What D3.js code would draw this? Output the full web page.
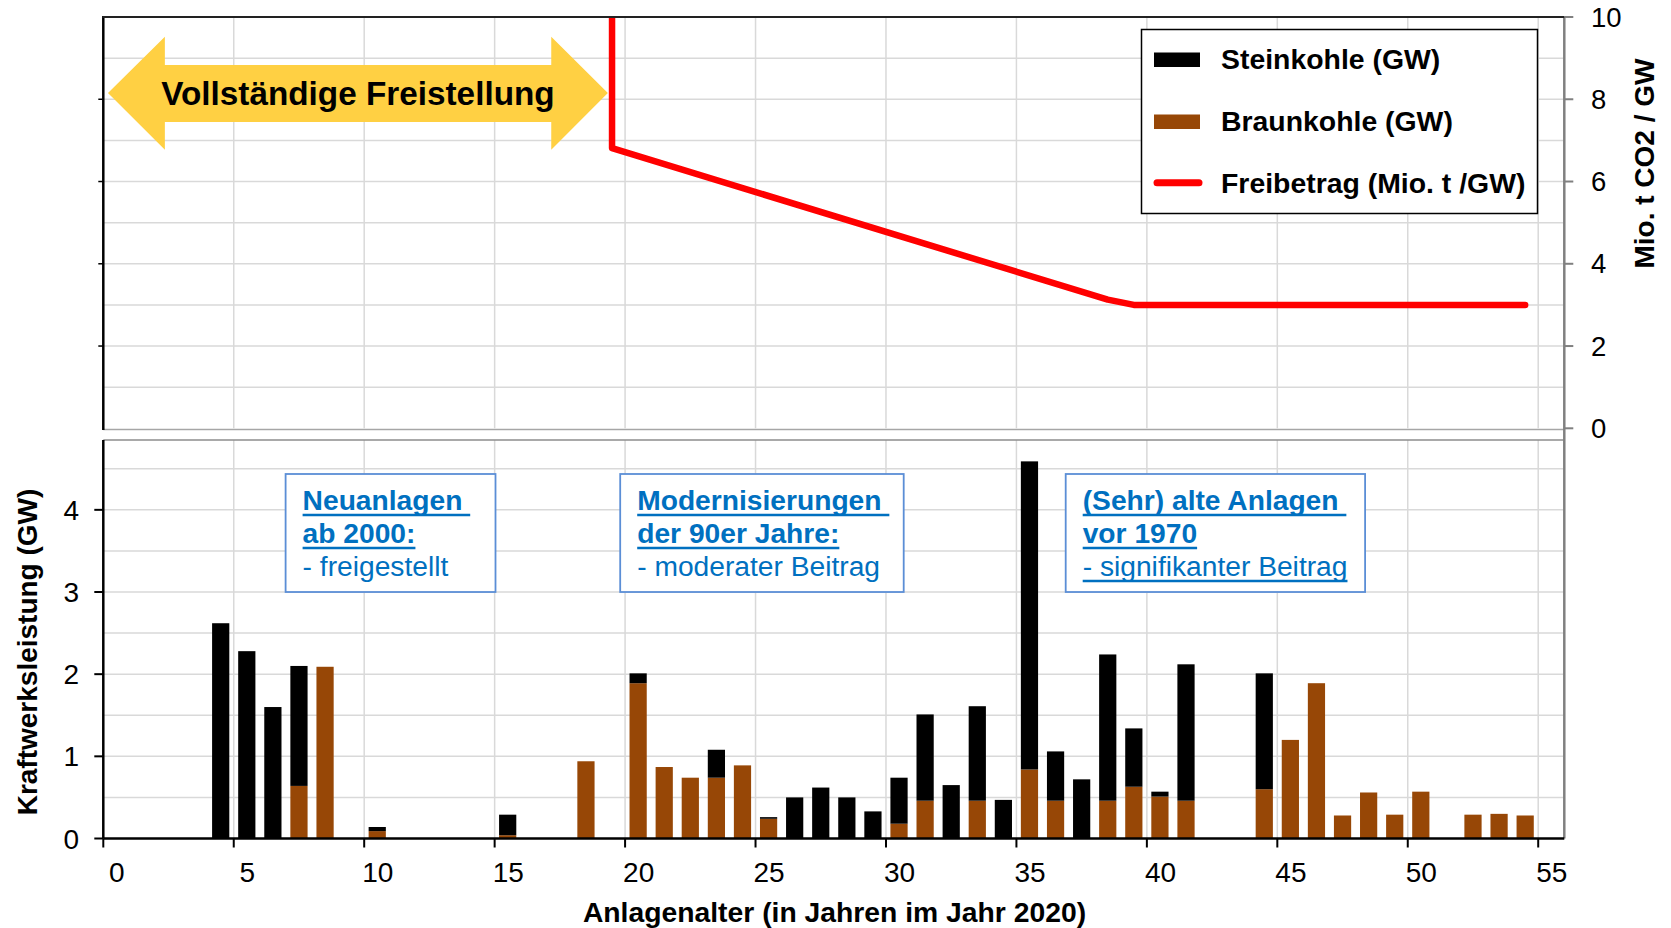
<!DOCTYPE html>
<html>
<head>
<meta charset="utf-8">
<script src="https://cdn.jsdelivr.net/npm/d3@7/dist/d3.min.js"></script>
<style>
  html, body { margin: 0; padding: 0; background: #ffffff; }
  svg { display: block; font-family: "Liberation Sans", Arial, Helvetica, sans-serif; }
</style>
</head>
<body>
<svg id="chart" width="1671" height="928"></svg>
<script>
// ---------- DATA ----------
const ages = [4,5,6,7,8,10,15,18,20,21,22,23,24,25,26,27,28,29,30,31,32,33,34,35,36,37,38,39,40,41,44,45,46,47,48,49,50,52,53,54];
const braunkohle = [0,0,0,0.64,2.09,0.09,0.04,0.94,1.89,0.87,0.74,0.74,0.89,0.24,0,0,0,0,0.18,0.46,0,0.46,0,0.84,0.46,0,0.46,0.63,0.51,0.46,0.60,1.20,1.89,0.28,0.56,0.29,0.57,0.29,0.30,0.28];
const steinkohle = [2.62,2.28,1.60,1.46,0,0.05,0.25,0,0.12,0,0,0.34,0,0.02,0.50,0.62,0.50,0.33,0.56,1.05,0.65,1.15,0.47,3.75,0.60,0.72,1.78,0.71,0.06,1.66,1.41,0,0,0,0,0,0,0,0,0];
const freibetragX = [19.5, 19.5, 38.5, 39.5, 54.5];
const freibetragY = [10, 6.81, 3.13, 3.0, 3.0];
const xTicks = [0,5,10,15,20,25,30,35,40,45,50,55];
const leftTicks = [0,1,2,3,4];
const leftGrid = [0.5,1,1.5,2,2.5,3,3.5,4,4.5];
const rightTicks = [0,2,4,6,8,10];
const rightGrid = [1,2,3,4,5,6,7,8,9];
const seriesNames = ["Steinkohle (GW)", "Braunkohle (GW)", "Freibetrag (Mio. t /GW)"];
const seriesColors = {stein: "#000000", braun: "#974706", line: "#FF0000"};

// ---------- SCALES ----------
const svg = d3.select("#chart");
const x = d3.scaleLinear().domain([0, 56]).range([103.3, 1564.3]);
const yTop = d3.scaleLinear().domain([0, 10]).range([428.3, 17]);
const yBot = d3.scaleLinear().domain([0, 4.85]).range([838.5, 440]);
const gridColor = "#D9D9D9";
const FONT_BOLD = 700;

// ---------- GRIDLINES ----------
const g = svg.append("g");
g.selectAll(".hgU").data(rightGrid).enter().append("line")
  .attr("x1", x(0)).attr("x2", x(56))
  .attr("y1", d => yTop(d)).attr("y2", d => yTop(d))
  .attr("stroke", gridColor).attr("stroke-width", 1.5);
g.selectAll(".vgU").data(xTicks.filter(d => d > 0)).enter().append("line")
  .attr("x1", d => x(d)).attr("x2", d => x(d))
  .attr("y1", yTop(10)).attr("y2", yTop(0))
  .attr("stroke", gridColor).attr("stroke-width", 1.5);
g.selectAll(".hgL").data(leftGrid).enter().append("line")
  .attr("x1", x(0)).attr("x2", x(56))
  .attr("y1", d => yBot(d)).attr("y2", d => yBot(d))
  .attr("stroke", gridColor).attr("stroke-width", 1.5);
g.selectAll(".vgL").data(xTicks.filter(d => d > 0)).enter().append("line")
  .attr("x1", d => x(d)).attr("x2", d => x(d))
  .attr("y1", yBot(4.85)).attr("y2", yBot(0))
  .attr("stroke", gridColor).attr("stroke-width", 1.5);

// ---------- BARS ----------
const table = ages.map((a, i) => ({age: a, braun: braunkohle[i], stein: steinkohle[i]}));
const stacked = d3.stack().keys(["braun", "stein"])(table);
const barW = x(0.66) - x(0);
svg.append("g").selectAll("g").data(stacked).enter().append("g")
  .attr("fill", d => seriesColors[d.key])
  .selectAll("rect").data(d => d.filter(s => s[1] - s[0] > 0)).enter().append("rect")
  .attr("x", d => x(d.data.age + 0.5) - barW / 2)
  .attr("width", barW)
  .attr("y", d => yBot(d[1]))
  .attr("height", d => yBot(d[0]) - yBot(d[1]));

// ---------- FRAMES & AXES ----------
svg.append("line").attr("x1", x(0)).attr("x2", x(56)).attr("y1", 429.5).attr("y2", 429.5)
  .attr("stroke", "#A6A6A6").attr("stroke-width", 1.5);
svg.append("line").attr("x1", x(0)).attr("x2", x(56)).attr("y1", yBot(4.85)).attr("y2", yBot(4.85))
  .attr("stroke", "#8C8C8C").attr("stroke-width", 1.5);
svg.append("line").attr("x1", x(56)).attr("x2", x(56)).attr("y1", yTop(10)).attr("y2", yBot(0))
  .attr("stroke", "#808080").attr("stroke-width", 2.5);
svg.selectAll(".rt").data(rightTicks).enter().append("line")
  .attr("x1", x(56)).attr("x2", x(56) + 9)
  .attr("y1", d => yTop(d)).attr("y2", d => yTop(d))
  .attr("stroke", "#808080").attr("stroke-width", 2);
svg.selectAll(".rl").data(rightTicks).enter().append("text")
  .attr("x", 1591).attr("y", d => yTop(d) + 9.5)
  .attr("font-size", 27.5).attr("fill", "#000").text(d => d);

svg.append("line").attr("x1", x(0)).attr("x2", x(0)).attr("y1", yTop(10) - 1).attr("y2", 430)
  .attr("stroke", "#000").attr("stroke-width", 2.5);
svg.selectAll(".ult").data([2,4,6,8]).enter().append("line")
  .attr("x1", x(0) - 5).attr("x2", x(0))
  .attr("y1", d => yTop(d)).attr("y2", d => yTop(d))
  .attr("stroke", "#000").attr("stroke-width", 1.5);

svg.append("line").attr("x1", x(0)).attr("x2", x(0)).attr("y1", yBot(4.85)).attr("y2", yBot(0))
  .attr("stroke", "#000").attr("stroke-width", 2.5);
svg.selectAll(".lt").data(leftTicks).enter().append("line")
  .attr("x1", x(0) - 9).attr("x2", x(0))
  .attr("y1", d => yBot(d)).attr("y2", d => yBot(d))
  .attr("stroke", "#000").attr("stroke-width", 2);
svg.selectAll(".ll").data(leftTicks).enter().append("text")
  .attr("x", 79).attr("y", d => yBot(d) + 10)
  .attr("text-anchor", "end").attr("font-size", 28).attr("fill", "#000").text(d => d);

svg.append("line").attr("x1", x(0)).attr("x2", x(56)).attr("y1", yBot(0)).attr("y2", yBot(0))
  .attr("stroke", "#000").attr("stroke-width", 2.5);
svg.selectAll(".xt").data(xTicks).enter().append("line")
  .attr("x1", d => x(d)).attr("x2", d => x(d))
  .attr("y1", yBot(0)).attr("y2", yBot(0) + 9)
  .attr("stroke", "#000").attr("stroke-width", 2);
svg.selectAll(".xl").data(xTicks).enter().append("text")
  .attr("x", d => x(d) + 13.6).attr("y", 882)
  .attr("text-anchor", "middle").attr("font-size", 28).attr("fill", "#000").text(d => d);

// ---------- RED LINE ----------
svg.append("clipPath").attr("id", "clipTop").append("rect")
  .attr("x", x(0)).attr("y", yTop(10)).attr("width", x(56) - x(0) + 20).attr("height", yTop(0) - yTop(10));
const lineGen = d3.line().x(d => x(d[0])).y(d => yTop(d[1]));
svg.append("path")
  .datum(freibetragX.map((v, i) => [v, freibetragY[i]]))
  .attr("d", lineGen)
  .attr("clip-path", "url(#clipTop)")
  .attr("fill", "none").attr("stroke", seriesColors.line)
  .attr("stroke-width", 6.5).attr("stroke-linejoin", "round").attr("stroke-linecap", "round");

svg.append("line").attr("x1", x(0) - 1).attr("x2", x(56)).attr("y1", yTop(10)).attr("y2", yTop(10))
  .attr("stroke", "#222").attr("stroke-width", 2);

// ---------- DOUBLE ARROW ----------
const arrowPts = [[0.18, 8.15],[2.36, 9.52],[2.36, 8.83],[17.17, 8.83],[17.17, 9.52],[19.34, 8.15],
                  [17.17, 6.77],[17.17, 7.45],[2.36, 7.45],[2.36, 6.77]];
svg.append("polygon")
  .attr("points", arrowPts.map(p => x(p[0]) + "," + yTop(p[1])).join(" "))
  .attr("fill", "#FFD043");
svg.append("text").attr("x", x(9.76)).attr("y", yTop(8.15) + 12)
  .attr("text-anchor", "middle").attr("font-size", 33.3).attr("font-weight", FONT_BOLD)
  .attr("fill", "#000").text("Vollständige Freistellung");

// ---------- LEGEND ----------
const lg = svg.append("g");
lg.append("rect").attr("x", 1141.5).attr("y", 29.5).attr("width", 396).attr("height", 184)
  .attr("fill", "#fff").attr("stroke", "#000").attr("stroke-width", 1.5);
lg.append("rect").attr("x", 1154).attr("y", 52.5).attr("width", 46).attr("height", 14.5).attr("fill", seriesColors.stein);
lg.append("rect").attr("x", 1154).attr("y", 114.5).attr("width", 46).attr("height", 14.5).attr("fill", seriesColors.braun);
lg.append("line").attr("x1", 1157).attr("x2", 1199).attr("y1", 182.7).attr("y2", 182.7)
  .attr("stroke", seriesColors.line).attr("stroke-width", 7).attr("stroke-linecap", "round");
[69, 131, 192.5].forEach((yy, i) => {
  lg.append("text").attr("x", 1221).attr("y", yy).attr("font-size", 28.4).attr("font-weight", FONT_BOLD)
    .attr("fill", "#000").text(seriesNames[i]);
});

// ---------- AXIS TITLES ----------
svg.append("text").attr("transform", "translate(1654,163.5) rotate(-90)")
  .attr("text-anchor", "middle").attr("font-size", 28).attr("font-weight", FONT_BOLD)
  .text("Mio. t CO2 / GW");
svg.append("text").attr("transform", "translate(37,652) rotate(-90)")
  .attr("text-anchor", "middle").attr("font-size", 28).attr("font-weight", FONT_BOLD)
  .text("Kraftwerksleistung (GW)");
svg.append("text").attr("x", 834.5).attr("y", 922)
  .attr("text-anchor", "middle").attr("font-size", 28.3).attr("font-weight", FONT_BOLD)
  .text("Anlagenalter (in Jahren im Jahr 2020)");

// ---------- ANNOTATION BOXES ----------
const boxes = [
  {x0: 285.6, x1: 495.5, lines: [["Neuanlagen ", true, true], ["ab 2000:", true, true], ["- freigestellt", false, false]]},
  {x0: 620.2, x1: 903.7, lines: [["Modernisierungen ", true, true], ["der 90er Jahre:", true, true], ["- moderater Beitrag", false, false]]},
  {x0: 1065.7, x1: 1365.1, lines: [["(Sehr) alte Anlagen ", true, true], ["vor 1970", true, true], ["- signifikanter Beitrag", false, true]]}
];
const blue = "#0070C0";
boxes.forEach(b => {
  svg.append("rect").attr("x", b.x0).attr("y", 474).attr("width", b.x1 - b.x0).attr("height", 118)
    .attr("fill", "#fff").attr("stroke", "#5B8ED6").attr("stroke-width", 1.8);
  b.lines.forEach((ln, i) => {
    const t = svg.append("text").attr("x", b.x0 + 17).attr("y", 510 + i * 33)
      .attr("font-size", 28.2).attr("font-weight", ln[1] ? 700 : 400)
      .attr("fill", blue).style("white-space", "pre").text(ln[0]);
    if (ln[2]) {
      const w = t.node().getComputedTextLength();
      svg.append("line").attr("x1", b.x0 + 17).attr("x2", b.x0 + 17 + w)
        .attr("y1", 510 + i * 33 + 5).attr("y2", 510 + i * 33 + 5)
        .attr("stroke", blue).attr("stroke-width", 2.6);
    }
  });
});
</script>
</body>
</html>
